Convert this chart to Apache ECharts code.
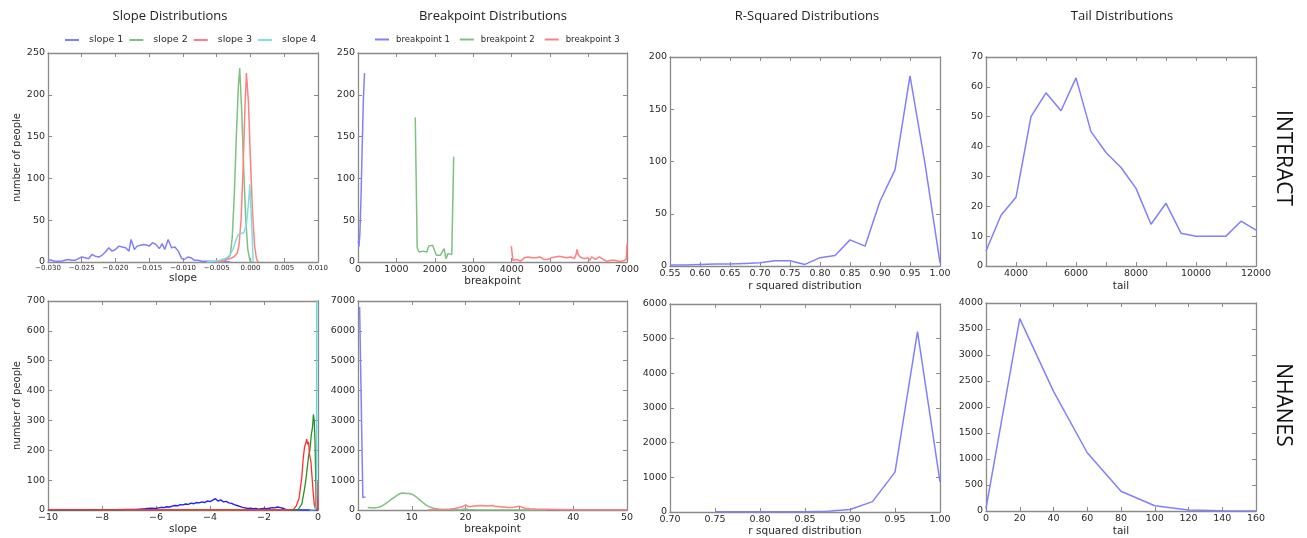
<!DOCTYPE html>
<html><head><meta charset="utf-8">
<script src="https://cdn.jsdelivr.net/npm/echarts@6/dist/echarts.min.js"></script>
<style>html,body{margin:0;padding:0;background:#fff}#c{width:1307px;height:538px}</style>
</head><body><div id="c"></div><script>
// ---------- DATA ----------
// INTERACT slope distributions
const interactSlope1 = [[-0.0300,3],[-0.0295,2],[-0.0290,1],[-0.0285,1],[-0.0280,1],[-0.0275,2],[-0.0270,3],[-0.0265,2],[-0.0260,2],[-0.0255,4],[-0.0250,6],[-0.0245,5],[-0.0240,4],[-0.0235,9],[-0.0230,7],[-0.0225,6],[-0.0220,8],[-0.0215,12],[-0.0210,17],[-0.0205,13],[-0.0200,15],[-0.0195,19],[-0.0190,18],[-0.0185,17],[-0.0180,13],[-0.0177,27],[-0.0172,15],[-0.0168,19],[-0.0163,20],[-0.0158,21],[-0.0153,20],[-0.0150,19],[-0.0145,23],[-0.0140,21],[-0.0135,16],[-0.0131,22],[-0.0127,15],[-0.0122,27],[-0.0117,17],[-0.0112,18],[-0.0107,13],[-0.0102,4],[-0.0098,3],[-0.0093,6],[-0.0088,5],[-0.0083,2],[-0.0078,2],[-0.0072,1],[-0.0065,1],[-0.0058,1],[-0.0050,0],[-0.0040,1],[-0.0030,0]];
const interactSlope2 = [[-0.0060,0],[-0.0050,1],[-0.0040,2],[-0.0035,3],[-0.0030,8],[-0.0027,30],[-0.0024,80],[-0.0021,150],[-0.0018,210],[-0.0016,232],[-0.0013,180],[-0.0010,110],[-0.0007,50],[-0.0004,15],[-0.0001,2],[0.0002,0]];
const interactSlope3 = [[-0.0050,0],[-0.0040,1],[-0.0035,3],[-0.0030,4],[-0.0025,6],[-0.0020,10],[-0.0017,20],[-0.0014,50],[-0.0011,110],[-0.0008,190],[-0.0006,226],[-0.0003,190],[0.0000,120],[0.0003,60],[0.0006,20],[0.0009,3],[0.0012,0]];
const interactSlope4 = [[-0.0065,0],[-0.0055,1],[-0.0045,2],[-0.0035,5],[-0.0030,9],[-0.0026,15],[-0.0022,25],[-0.0018,33],[-0.0014,34],[-0.0010,35],[-0.0006,45],[-0.0003,70],[-0.0001,93],[0.0002,40],[0.0004,0]];
// INTERACT breakpoint distributions
const interactBreak1 = [[10,25],[25,18],[50,35],[80,80],[110,140],[140,195],[170,226]];
const interactBreak2 = [[1490,173],[1540,17],[1590,12],[1640,11],[1690,13],[1740,14],[1790,12],[1840,19],[1890,18],[1940,20],[1990,21],[2040,8],[2090,8],[2140,8],[2190,7],[2240,16],[2290,4],[2340,10],[2390,8],[2440,9],[2490,126]];
const interactBreak3 = [[3990,19],[4030,2],[4080,2],[4130,3],[4180,2],[4230,1],[4280,3],[4330,5],[4380,3],[4430,6],[4480,4],[4530,5],[4580,3],[4630,5],[4680,7],[4730,6],[4780,4],[4830,3],[4880,4],[4930,3],[4980,4],[5030,5],[5080,4],[5130,6],[5180,5],[5230,7],[5280,5],[5330,6],[5380,4],[5430,5],[5480,4],[5530,6],[5580,8],[5630,4],[5680,10],[5700,15],[5730,9],[5780,6],[5830,5],[5880,4],[5930,3],[5980,5],[6030,2],[6080,6],[6130,4],[6180,3],[6230,5],[6280,6],[6330,4],[6380,3],[6430,2],[6480,1],[6530,1],[6580,2],[6630,1],[6680,2],[6730,2],[6780,1],[6830,2],[6880,1],[6930,2],[6980,3],[7000,22]];
// INTERACT r-squared
const interactR2X = [0.55,0.575,0.6,0.625,0.65,0.675,0.7,0.725,0.75,0.775,0.8,0.825,0.85,0.875,0.9,0.925,0.95,0.975,1.0];
const interactR2Y = [1,1,1.5,2,2,2.5,3,5,5,1.5,8,10,25,19,62,92,182,98,3];
// INTERACT tail
const interactTailX = [3000,3500,4000,4500,5000,5500,6000,6500,7000,7500,8000,8500,9000,9500,10000,10500,11000,11500,12000];
const interactTailY = [5,17,23,50,58,52,63,45,38,33,26,14,21,11,10,10,10,15,12];
// NHANES slope distributions
const nhanesSlope1 = [[-10,0],[-9.5,1],[-9,0],[-8.5,1],[-8,1],[-7.5,1],[-7,2],[-6.8,2],[-6.6,3],[-6.4,4],[-6.2,6],[-6.0,5],[-5.9,7],[-5.8,9],[-5.7,8],[-5.6,11],[-5.5,10],[-5.4,13],[-5.3,15],[-5.2,14],[-5.1,18],[-5.0,17],[-4.9,20],[-4.8,19],[-4.7,23],[-4.6,21],[-4.5,25],[-4.4,24],[-4.3,27],[-4.2,25],[-4.1,30],[-4.0,28],[-3.9,33],[-3.8,38],[-3.7,30],[-3.6,34],[-3.5,27],[-3.4,29],[-3.3,24],[-3.2,22],[-3.1,18],[-3.0,15],[-2.9,12],[-2.8,9],[-2.7,7],[-2.6,5],[-2.5,6],[-2.4,4],[-2.3,5],[-2.2,3],[-2.1,4],[-2.0,5],[-1.9,4],[-1.8,6],[-1.7,8],[-1.6,7],[-1.5,10],[-1.4,8],[-1.3,6],[-1.2,2],[-1.1,1],[-1.0,0],[-0.5,0],[0,0]];
const nhanesSlope2 = [[-10,0],[-2,0],[-0.75,0],[-0.7,3],[-0.6,20],[-0.5,70],[-0.45,100],[-0.4,140],[-0.35,180],[-0.3,200],[-0.25,250],[-0.2,280],[-0.17,320],[-0.14,300],[-0.11,230],[-0.08,80],[-0.06,5],[-0.04,0],[0,0]];
const nhanesSlope3 = [[-10,1],[-9,1],[-8,0],[-7,1],[-6,0],[-5,1],[-4,0],[-3,0],[-2,0],[-1.0,0],[-0.9,3],[-0.8,15],[-0.7,40],[-0.6,110],[-0.55,170],[-0.5,210],[-0.45,225],[-0.42,237],[-0.38,220],[-0.35,228],[-0.32,190],[-0.3,180],[-0.26,160],[-0.22,110],[-0.18,60],[-0.14,20],[-0.1,5],[-0.07,2],[-0.05,100],[-0.03,90],[-0.01,0],[0,0]];
const nhanesSlope4 = [[-0.3,0],[-0.1,2],[-0.07,10],[-0.055,60],[-0.045,760]];
// NHANES breakpoint distributions
const nhanesBreak1 = [[0.3,6800],[0.9,420],[1.4,440]];
const nhanesBreak2 = [[1.8,80],[2.5,75],[3,70],[3.5,80],[4,100],[4.5,140],[5,200],[5.5,260],[6,330],[6.5,400],[7,460],[7.5,520],[8,560],[8.5,570],[9,550],[9.5,555],[10,530],[10.5,480],[11,410],[11.5,330],[12,260],[12.5,190],[13,130],[13.5,90],[14,60],[15,35],[16,20],[17,15],[18,12],[19,10],[20,45],[20.5,15],[21,8],[22,5],[24,3],[26,2],[30,2],[32,1],[35,0]];
const nhanesBreak3 = [[13,5],[14,5],[15,10],[16,15],[17,25],[18,50],[19,90],[19.5,120],[20,170],[20.5,110],[21,120],[22,140],[23,150],[24,130],[25,150],[25.5,120],[26,115],[27,100],[28,80],[29,95],[30,130],[30.5,90],[31,60],[32,40],[33,30],[35,25],[37,20],[40,10],[45,5],[50,5]];
// NHANES r-squared
const nhanesR2X = [0.75,0.775,0.8,0.825,0.85,0.875,0.9,0.925,0.95,0.975,1.0];
const nhanesR2Y = [5,5,5,8,10,25,70,300,1150,5200,870];
// NHANES tail
const nhanesTailX = [0,20,40,60,80,100,120,140,160];
const nhanesTailY = [50,3700,2300,1120,380,100,20,5,2];

const titles = ['Slope Distributions','Breakpoint Distributions','R-Squared Distributions','Tail Distributions'];
const slopeNames = ['slope 1','slope 2','slope 3','slope 4'];
const breakNames = ['breakpoint 1','breakpoint 2','breakpoint 3'];
const rowLabels = ['INTERACT','NHANES'];

// ---------- LAYOUT ----------
const P = [
 {left:48, top:53, w:270, h:209, x:[-0.03,0.01,0.005], xd:3, xfs:7, y:[0,250,50], xname:'slope', xgap:11, yname:'number of people'},
 {left:358,top:53, w:269, h:209, x:[0,7000,1000], y:[0,250,50], xname:'breakpoint', xgap:11},
 {left:670,top:57, w:270, h:209, x:[0.55,1,0.05], xd:2, y:[0,200,50], xname:'r squared distribution', xgap:15},
 {left:986,top:57, w:270, h:209, x:[3000,12000,1000], xmod:2000, y:[0,70,10], xname:'tail', xgap:15},
 {left:48, top:301,w:270, h:209, x:[-10,0,2], y:[0,700,100], xname:'slope', xgap:14, yname:'number of people'},
 {left:358,top:301,w:269, h:209, x:[0,50,10], y:[0,7000,1000], xname:'breakpoint', xgap:14},
 {left:670,top:304,w:270, h:209, x:[0.7,1,0.05], xd:2, y:[0,6000,1000], xname:'r squared distribution', xgap:14},
 {left:986,top:303,w:270, h:209, x:[0,160,20], y:[0,4000,500], xname:'tail', xgap:15}
];
const FRAME = '#8a8a8a', LBL = '#2a2a2a', TF = 'DejaVu Sans';
function fmt(d, mod){ return v => { if (Math.abs(v)<1e-9) v=0; if (mod && Math.round(v)%mod!==0) return ''; const s = d? v.toFixed(d): String(Math.round(v)); return s.replace('-','\u2212'); }; }
const grids=[], xAxes=[], yAxes=[];
P.forEach((p,i)=>{
  grids.push({left:p.left, top:p.top, width:p.w, height:p.h, show:false});
  const tick = {show:true, inside:true, length:4, lineStyle:{color:FRAME, width:1}};
  const line = {show:true, onZero:false, lineStyle:{color:FRAME, width:1.3}};
  xAxes.push({type:'value', gridIndex:i, position:'bottom', min:p.x[0], max:p.x[1], interval:p.x[2],
    axisLine:line, axisTick:tick, splitLine:{show:false},
    axisLabel:{color:LBL, fontSize:p.xfs||9.5, fontFamily:TF, margin:3, formatter:fmt(p.xd,p.xmod)},
    name:p.xname, nameLocation:'middle', nameGap:p.xgap, nameTextStyle:{color:LBL, fontSize:10.5, fontFamily:TF}});
  xAxes.push({type:'value', gridIndex:i, position:'top', min:p.x[0], max:p.x[1], interval:p.x[2],
    axisLine:line, axisTick:tick, splitLine:{show:false}, axisLabel:{show:false}});
  yAxes.push({type:'value', gridIndex:i, position:'left', min:p.y[0], max:p.y[1], interval:p.y[2],
    axisLine:line, axisTick:tick, splitLine:{show:false},
    axisLabel:{color:LBL, fontSize:9.5, fontFamily:TF, margin:3, formatter:fmt(0)},
    name:p.yname||'', nameLocation:'middle', nameGap:26, nameTextStyle:{color:LBL, fontSize:10, fontFamily:TF}});
  yAxes.push({type:'value', gridIndex:i, position:'right', min:p.y[0], max:p.y[1], interval:p.y[2],
    axisLine:line, axisTick:tick, splitLine:{show:false}, axisLabel:{show:false}});
});

const FB='#8080ff', FG='#80c080', FR='#ff8080', FC='#80dfdf';
const series=[];
function add(i, data, color, name, w){
  const s = {type:'line', xAxisIndex:2*i, yAxisIndex:2*i, data:data, color:color, showSymbol:false, symbol:'none',
    lineStyle:{width:w||1.5, color:color}, silent:true, animation:false, clip:true};
  if (name) s.name=name;
  series.push(s);
}
const zip=(a,b)=>a.map((v,k)=>[v,b[k]]);
add(0, interactSlope1, FB, slopeNames[0]);
add(0, interactSlope2, FG, slopeNames[1]);
add(0, interactSlope3, FR, slopeNames[2]);
add(0, interactSlope4, FC, slopeNames[3]);
add(1, interactBreak1, FB, breakNames[0]);
add(1, interactBreak2, FG, breakNames[1]);
add(1, interactBreak3, FR, breakNames[2]);
add(2, zip(interactR2X, interactR2Y), FB);
add(3, zip(interactTailX, interactTailY), FB);
add(4, nhanesSlope1, '#1f1fff', null, 1.4);
add(4, nhanesSlope2, '#2a8f2a', null, 1.3);
add(4, nhanesSlope3, '#ff3030', null, 1.3);
add(4, nhanesSlope4, '#66d9d9', null, 1.5);
add(5, nhanesBreak1, FB);
add(5, nhanesBreak2, FG);
add(5, nhanesBreak3, FR);
add(6, zip(nhanesR2X, nhanesR2Y), FB);
add(7, zip(nhanesTailX, nhanesTailY), FB);

const titleX=[170,493,807,1122];
const graphic = titles.map((t,k)=>({type:'text', x:titleX[k], y:16, silent:true,
  style:{text:t, fill:'#222', font:'13px "Open Sans"', align:'center', verticalAlign:'middle'}}));
graphic.push({type:'text', x:1283, y:158, rotation:-Math.PI/2, silent:true,
  style:{text:rowLabels[0], fill:'#111', font:'21px "Open Sans"', align:'center', verticalAlign:'middle'}});
graphic.push({type:'text', x:1283, y:405, rotation:-Math.PI/2, silent:true,
  style:{text:rowLabels[1], fill:'#111', font:'21px "Open Sans"', align:'center', verticalAlign:'middle'}});

const legend=[
 {data:slopeNames, left:60, top:30, icon:'rect', itemWidth:14, itemHeight:2, itemGap:6, selectedMode:false,
  textStyle:{color:LBL, fontSize:9.5, fontFamily:TF, padding:[0,0,0,5]}},
 {data:breakNames, left:370, top:30, icon:'rect', itemWidth:14, itemHeight:2, itemGap:10, selectedMode:false,
  textStyle:{color:LBL, fontSize:8.5, fontFamily:TF, padding:[0,0,0,2]}}
];

const chart = echarts.init(document.getElementById('c'), null, {renderer:'canvas'});
chart.setOption({animation:false, backgroundColor:'#fff', grid:grids, xAxis:xAxes, yAxis:yAxes, series:series, legend:legend, graphic:graphic});
</script></body></html>
